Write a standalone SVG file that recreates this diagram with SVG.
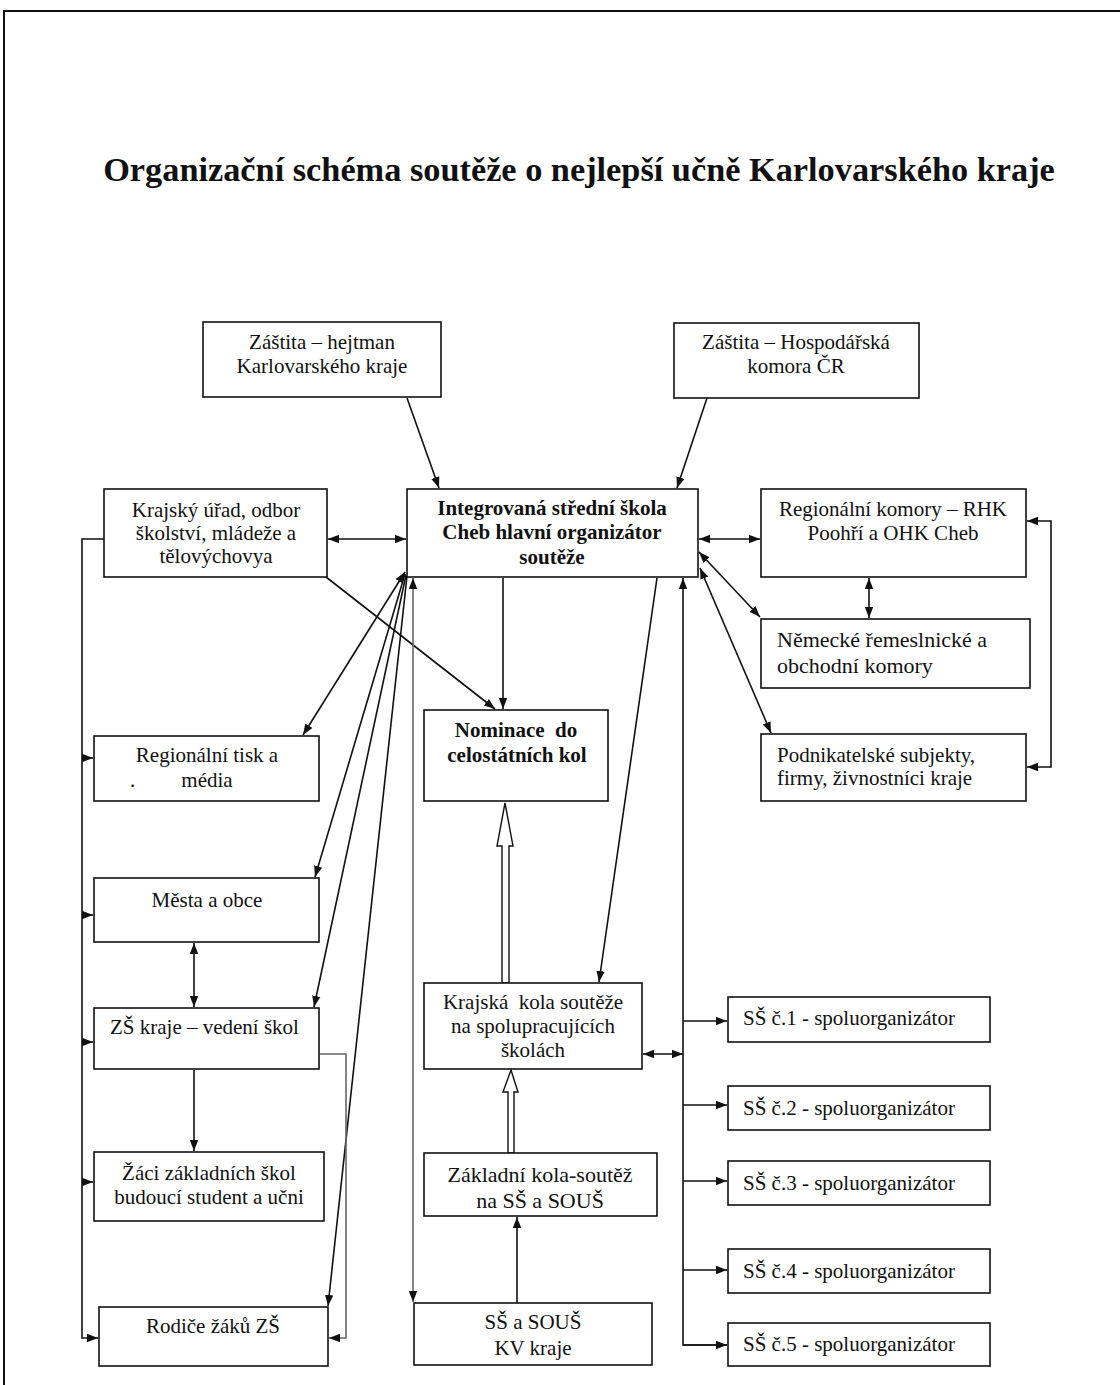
<svg xmlns="http://www.w3.org/2000/svg" width="1120" height="1385" viewBox="0 0 1120 1385">
<style>
  .box { fill: #fff; stroke: #111; stroke-width: 1.6; }
  .t { font-family: "Liberation Serif", "Times New Roman", serif; font-size: 21px; fill: #111; }
  .c { text-anchor: middle; }
  .b { font-weight: bold; }
  .pre { white-space: pre; }
  .ln { fill: none; stroke: #111; stroke-width: 1.6; }
  .gr { fill: none; stroke: #666; stroke-width: 1.6; }
  .hollow { fill: #fff; stroke: #111; stroke-width: 1.4; }
  .title { font-family: "Liberation Serif", "Times New Roman", serif; font-size: 34.3px; font-weight: bold; fill: #111; text-anchor: middle; }
</style>
<defs>
  <marker id="a" markerUnits="userSpaceOnUse" markerWidth="12" markerHeight="10" refX="11" refY="5" orient="auto-start-reverse">
    <path d="M0,0.8 L11,5 L0,9.2 z" fill="#111"/>
  </marker>
</defs>
<rect x="0" y="0" width="1120" height="1385" fill="#fff"/>
<path d="M4,1385 V11 H1120" fill="none" stroke="#111" stroke-width="2"/>
<text class="title" x="579" y="181">Organizační schéma soutěže o nejlepší učně Karlovarského kraje</text>

<g id="connectors">
  <line class="ln" x1="407" y1="398" x2="439" y2="488" marker-end="url(#a)"/>
  <line class="ln" x1="707" y1="398" x2="677" y2="488" marker-end="url(#a)"/>
  <line class="ln" x1="328" y1="539" x2="406" y2="539" marker-start="url(#a)" marker-end="url(#a)"/>
  <line class="ln" x1="699" y1="539" x2="760" y2="539" marker-start="url(#a)" marker-end="url(#a)"/>
  <line class="ln" x1="869" y1="578" x2="869" y2="618" marker-start="url(#a)" marker-end="url(#a)"/>
  <line class="ln" x1="699" y1="552" x2="760" y2="617" marker-start="url(#a)" marker-end="url(#a)"/>
  <line class="ln" x1="700" y1="568" x2="771" y2="733" marker-start="url(#a)" marker-end="url(#a)"/>
  <path class="ln" d="M1027,521 H1051 V767 H1027" marker-start="url(#a)" marker-end="url(#a)"/>
  <path class="ln" d="M104,539 H82 V1338 H98" marker-end="url(#a)"/>
  <line class="ln" x1="82" y1="758" x2="93" y2="758" marker-end="url(#a)"/>
  <line class="ln" x1="82" y1="915" x2="93" y2="915" marker-end="url(#a)"/>
  <line class="ln" x1="82" y1="1042" x2="93" y2="1042" marker-end="url(#a)"/>
  <line class="ln" x1="82" y1="1182" x2="93" y2="1182" marker-end="url(#a)"/>
  <line class="ln" x1="405" y1="572" x2="303" y2="735" marker-start="url(#a)" marker-end="url(#a)"/>
  <line class="ln" x1="405" y1="574" x2="315" y2="877" marker-end="url(#a)"/>
  <line class="ln" x1="406" y1="575" x2="314" y2="1007" marker-end="url(#a)"/>
  <line class="ln" x1="407" y1="576" x2="328" y2="1306" marker-end="url(#a)"/>
  <line class="ln" x1="326" y1="577" x2="495" y2="709" marker-end="url(#a)"/>
  <line class="ln" x1="503" y1="578" x2="503" y2="709" marker-end="url(#a)"/>
  <line class="gr" x1="413" y1="578" x2="413" y2="1302" marker-start="url(#a)" marker-end="url(#a)"/>
  <line class="ln" x1="657" y1="578" x2="599" y2="982" marker-end="url(#a)"/>
  <path class="ln" d="M727,1345 H683 V578" marker-end="url(#a)"/>
  <line class="ln" x1="683" y1="1021" x2="727" y2="1021" marker-end="url(#a)"/>
  <line class="ln" x1="683" y1="1105" x2="727" y2="1105" marker-end="url(#a)"/>
  <line class="ln" x1="683" y1="1181" x2="727" y2="1181" marker-end="url(#a)"/>
  <line class="ln" x1="683" y1="1270" x2="727" y2="1270" marker-end="url(#a)"/>
  <path class="ln" d="M683,1345 H727" marker-end="url(#a)"/>
  <line class="ln" x1="643" y1="1054" x2="683" y2="1054" marker-start="url(#a)" marker-end="url(#a)"/>
  <polygon class="hollow" points="502,983 502,846 497,846 505,803 513,846 509,846 509,983"/>
  <polygon class="hollow" points="508,1153 508,1092 503,1092 511,1070 518,1092 514,1092 514,1153"/>
  <line class="ln" x1="517" y1="1303" x2="517" y2="1217" marker-end="url(#a)"/>
  <line class="ln" x1="194" y1="943" x2="194" y2="1007" marker-start="url(#a)" marker-end="url(#a)"/>
  <line class="ln" x1="194" y1="1070" x2="194" y2="1151" marker-end="url(#a)"/>
  <path class="gr" d="M320,1054 H346 V1338 H329" marker-end="url(#a)"/>
</g>

<g id="zastita-hejtman">
  <rect class="box" x="203" y="322" width="238" height="75"/>
  <text class="t c" x="322" y="349">Záštita – hejtman</text>
  <text class="t c" x="322" y="373">Karlovarského kraje</text>
</g>
<g id="zastita-hk">
  <rect class="box" x="674" y="323" width="245" height="75"/>
  <text class="t c" x="796" y="349">Záštita – Hospodářská</text>
  <text class="t c" x="796" y="373">komora ČR</text>
</g>
<g id="krajsky-urad">
  <rect class="box" x="104" y="489" width="223" height="88"/>
  <text class="t c" x="216" y="517">Krajský úřad, odbor</text>
  <text class="t c" x="216" y="540">školství, mládeže a</text>
  <text class="t c" x="216" y="563">tělovýchovya</text>
</g>
<g id="iss-cheb">
  <rect class="box" x="407" y="489" width="291" height="88"/>
  <text class="t c b" x="552" y="515">Integrovaná střední škola</text>
  <text class="t c b" x="552" y="539">Cheb hlavní organizátor</text>
  <text class="t c b" x="552" y="564">soutěže</text>
</g>
<g id="regionalni-komory">
  <rect class="box" x="761" y="489" width="265" height="88"/>
  <text class="t c" x="893" y="516">Regionální komory – RHK</text>
  <text class="t c" x="893" y="540">Poohří a OHK Cheb</text>
</g>
<g id="nemecke-komory">
  <rect class="box" x="761" y="619" width="269" height="69"/>
  <text class="t" x="777" y="647" style="font-size:22px">Německé řemeslnické a</text>
  <text class="t" x="777" y="673" style="font-size:22px">obchodní komory</text>
</g>
<g id="podnikatelske-subjekty">
  <rect class="box" x="761" y="734" width="265" height="67"/>
  <text class="t" x="777" y="762">Podnikatelské subjekty,</text>
  <text class="t" x="777" y="785">firmy, živnostníci kraje</text>
</g>
<g id="regionalni-tisk">
  <rect class="box" x="94" y="736" width="225" height="65"/>
  <text class="t c" x="207" y="762">Regionální tisk a</text>
  <text class="t c" x="207" y="787">média</text>
  <text class="t" x="130" y="787">.</text>
</g>
<g id="nominace">
  <rect class="box" x="424" y="710" width="184" height="91"/>
  <text class="t c b pre" x="516" y="737" xml:space="preserve">Nominace  do</text>
  <text class="t c b" x="517" y="762">celostátních kol</text>
</g>
<g id="mesta-obce">
  <rect class="box" x="94" y="878" width="225" height="64"/>
  <text class="t c" x="207" y="907">Města a obce</text>
</g>
<g id="zs-kraje">
  <rect class="box" x="94" y="1008" width="225" height="61"/>
  <text class="t" x="110" y="1034">ZŠ kraje – vedení škol</text>
</g>
<g id="krajska-kola">
  <rect class="box" x="424" y="983" width="218" height="86"/>
  <text class="t c pre" x="533" y="1009" xml:space="preserve">Krajská  kola soutěže</text>
  <text class="t c" x="533" y="1033">na spolupracujících</text>
  <text class="t c" x="533" y="1057">školách</text>
</g>
<g id="zaci-zs">
  <rect class="box" x="94" y="1152" width="230" height="69"/>
  <text class="t c" x="209" y="1180">Žáci základních škol</text>
  <text class="t c" x="209" y="1204">budoucí student a učni</text>
</g>
<g id="zakladni-kola">
  <rect class="box" x="424" y="1153" width="233" height="63"/>
  <text class="t c" x="540" y="1182" style="font-size:22px">Základní kola-soutěž</text>
  <text class="t c" x="540" y="1208" style="font-size:22px">na SŠ a SOUŠ</text>
</g>
<g id="rodice">
  <rect class="box" x="99" y="1307" width="229" height="59"/>
  <text class="t c" x="213" y="1333">Rodiče žáků ZŠ</text>
</g>
<g id="ss-sous-kv">
  <rect class="box" x="414" y="1303" width="238" height="62"/>
  <text class="t c" x="533" y="1329">SŠ a SOUŠ</text>
  <text class="t c" x="533" y="1355">KV kraje</text>
</g>
<g id="ss1">
  <rect class="box" x="728" y="997" width="262" height="45"/>
  <text class="t" x="743" y="1025">SŠ č.1 - spoluorganizátor</text>
</g>
<g id="ss2">
  <rect class="box" x="728" y="1086" width="262" height="44"/>
  <text class="t" x="743" y="1115">SŠ č.2 - spoluorganizátor</text>
</g>
<g id="ss3">
  <rect class="box" x="728" y="1161" width="262" height="44"/>
  <text class="t" x="743" y="1190">SŠ č.3 - spoluorganizátor</text>
</g>
<g id="ss4">
  <rect class="box" x="728" y="1249" width="262" height="44"/>
  <text class="t" x="743" y="1278">SŠ č.4 - spoluorganizátor</text>
</g>
<g id="ss5">
  <rect class="box" x="728" y="1323" width="262" height="43"/>
  <text class="t" x="743" y="1351">SŠ č.5 - spoluorganizátor</text>
</g>
</svg>
